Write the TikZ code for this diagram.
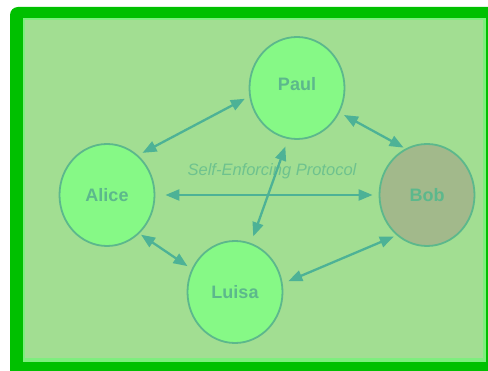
\documentclass[tikz,border=0pt]{standalone}
\usepackage{fontspec}
\setmainfont{Liberation Sans}
\usetikzlibrary{shapes.geometric,arrows.meta}
\definecolor{framegreen}{HTML}{00C000}
\definecolor{stripegreen}{HTML}{7EEE7E}
\definecolor{bggreen}{HTML}{A2DE92}
\definecolor{cfill}{HTML}{86F986}
\definecolor{bobfill}{HTML}{A2B98B}
\definecolor{cline}{HTML}{5CB88C}
\definecolor{ctext}{HTML}{5CB88C}
\definecolor{arrcol}{HTML}{4DB296}
\definecolor{lblcol}{HTML}{6EC28E}
\begin{document}
\begin{tikzpicture}[x=1pt,y=-1pt,
 person/.style={ellipse, draw=cline, line width=1.8pt, fill=cfill, minimum width=95pt, minimum height=102pt, inner sep=0pt, font=\fontsize{18}{20}\selectfont\bfseries, text=ctext},
 link/.style={draw=arrcol, line width=2.3pt, {Triangle[length=14pt,width=11pt]}-{Triangle[length=14pt,width=11pt]}}]
\fill[white] (0,0) rectangle (488,371);
\useasboundingbox (0,0) rectangle (488,371);
\fill[framegreen, rounded corners=8pt] (10,7) rectangle (500,385);
\fill[stripegreen] (23,18) rectangle (486,362);
\fill[bggreen] (25,20) rectangle (483,358);
\node[font=\fontsize{16.5}{18}\selectfont\itshape, text=lblcol] (proto) at (272,171) {Self-Enforcing Protocol};
\node[person, text depth=8pt] (paul) at (297,88) {Paul};
\node[person] (alice) at (107,195) {Alice};
\node[person, fill=bobfill] (bob) at (427,195) {Bob};
\node[person] (luisa) at (235,292) {Luisa};
\draw[link, shorten <=5pt, shorten >=5pt] (alice.52) -- (paul.190);
\draw[link, shorten <=5pt, shorten >=2pt] (paul.330) -- (bob.115);
\draw[link, shorten <=10pt, shorten >=6pt] (alice) -- (bob);
\draw[link, shorten <=8pt, shorten >=7pt] (paul.260) -- (luisa.72);
\draw[link, shorten <=2pt, shorten >=5pt] (alice.310) -- (luisa.152);
\draw[link, shorten <=6pt, shorten >=3pt] (luisa.10) -- (bob.233);
\end{tikzpicture}
\end{document}
